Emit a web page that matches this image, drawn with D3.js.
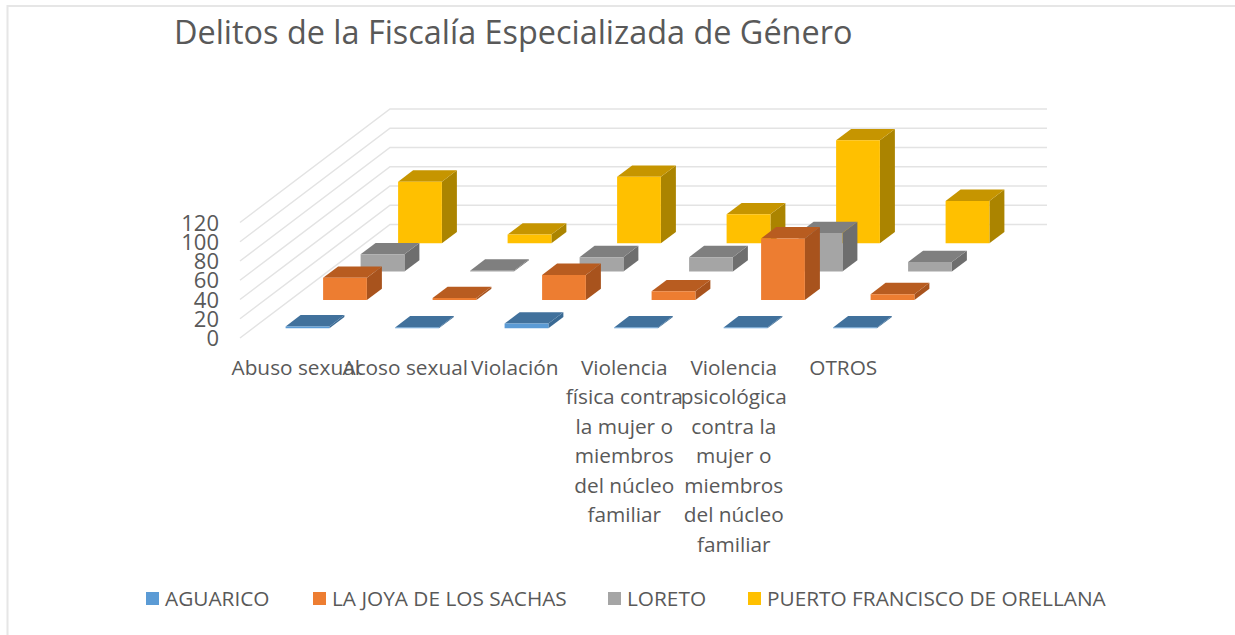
<!DOCTYPE html>
<html>
<head>
<meta charset="utf-8">
<script src="https://cdn.jsdelivr.net/npm/d3@7"></script>
<style>
html, body { margin: 0; padding: 0; background: #fff; }
svg { display: block; }
text { font-family: "Open Sans", sans-serif; fill: #595959; }
</style>
</head>
<body>
<script>
var categories = ["Abuso sexual", "Acoso sexual", "Violación", "Violencia física contra la mujer o miembros del núcleo familiar", "Violencia psicológica contra la mujer o miembros del núcleo familiar", "OTROS"];
var categoryLines = [
  ["Abuso sexual"],
  ["Acoso sexual"],
  ["Violación"],
  ["Violencia", "física contra", "la mujer o", "miembros", "del núcleo", "familiar"],
  ["Violencia", "psicológica", "contra la", "mujer o", "miembros", "del núcleo", "familiar"],
  ["OTROS"]
];
var seriesNames = ["AGUARICO", "LA JOYA DE LOS SACHAS", "LORETO", "PUERTO FRANCISCO DE ORELLANA"];
var aguarico = [2, 1, 5, 1, 1, 1];
var laJoya = [23, 2, 26, 9, 64, 6];
var loreto = [18, 1, 15, 15, 40, 10];
var orellana = [64, 9, 69, 30, 107, 44];
var yTicks = [0, 20, 40, 60, 80, 100, 120];

var seriesValues = [aguarico, laJoya, loreto, orellana];
var front = ["#5b9bd5", "#ed7d31", "#a5a5a5", "#ffc000"];
var top_ = ["#41719c", "#b85c20", "#7f7f7f", "#c69500"];
var side = ["#3a6a94", "#a8531d", "#6e6e6e", "#ab8400"];

var W = 1235, H = 635;
var svg = d3.select("body").append("svg").attr("width", W).attr("height", H);

// image frame, top and left only are visible in the screenshot
svg.append("path").attr("d", "M7.5,640V6H1235").attr("fill", "none").attr("stroke", "#e6e6e6").attr("stroke-width", 2);

svg.append("text").attr("x", 174).attr("y", 44).attr("font-size", 32.4).text("Delitos de la Fiscalía Especializada de Género");

// oblique projection: x across, depth goes up and to the right
var floorX = 240, floorY = 338, depthX = 150, depthY = 113.5;
var x = d3.scaleBand().domain(d3.range(categories.length)).range([0, 657]).paddingInner(0.6).paddingOuter(0.3);
var z = d3.scaleBand().domain(d3.range(seriesNames.length)).range([0.01, 1.01]).paddingInner(0.6).paddingOuter(0.3);
var y = d3.scaleLinear().domain([0, 120]).range([0, 115.5]);

function pt(px, depth, v) {
  return [floorX + px + depth * depthX, floorY - depth * depthY - y(v)];
}
function poly(pts) {
  return pts.map(function (p) { return p.join(","); }).join(" ");
}

var grid = svg.append("g").attr("fill", "none").attr("stroke", "#e3e3e3").attr("stroke-width", 1.5);
yTicks.forEach(function (t) {
  grid.append("polyline").attr("points", poly([pt(0, 0, t), pt(0, 1, t), pt(657, 1, t)]));
});

// back row first so nearer bars cover it
d3.range(seriesNames.length).reverse().forEach(function (s) {
  var g = svg.append("g");
  seriesValues[s].forEach(function (v, c) {
    var x0 = x(c), x1 = x0 + x.bandwidth(), d0 = z(s), d1 = d0 + z.bandwidth();
    g.append("polygon").attr("fill", side[s]).attr("points", poly([pt(x1, d0, 0), pt(x1, d1, 0), pt(x1, d1, v), pt(x1, d0, v)]));
    g.append("polygon").attr("fill", top_[s]).attr("points", poly([pt(x0, d0, v), pt(x1, d0, v), pt(x1, d1, v), pt(x0, d1, v)]));
    g.append("polygon").attr("fill", front[s]).attr("points", poly([pt(x0, d0, 0), pt(x1, d0, 0), pt(x1, d0, v), pt(x0, d0, v)]));
  });
});

// value axis
var yAxisScale = d3.scaleLinear().domain([0, 120]).range([floorY + 0.5, floorY + 0.5 - 115.5]);
var yAxis = svg.append("g").attr("transform", "translate(221,0)")
  .call(d3.axisLeft(yAxisScale).tickValues(yTicks).tickSize(0).tickPadding(2));
yAxis.select(".domain").remove();
yAxis.selectAll("text").attr("font-size", 22).style("font-family", '"Open Sans", sans-serif').style("fill", "#595959");

// category labels
var catCenter = d3.scaleBand().domain(d3.range(categories.length)).range([241, 898]);
categoryLines.forEach(function (lines, c) {
  var t = svg.append("text").attr("text-anchor", "middle").attr("font-size", 20.8);
  lines.forEach(function (l, i) {
    t.append("tspan").attr("x", catCenter(c) + catCenter.bandwidth() / 2).attr("y", 374.5 + i * 29.5).text(l);
  });
});

// legend
var legendX = [146, 313, 608, 748];
seriesNames.forEach(function (n, i) {
  svg.append("rect").attr("x", legendX[i]).attr("y", 592).attr("width", 13).attr("height", 13).attr("fill", front[i]);
  svg.append("text").attr("x", legendX[i] + 19).attr("y", 605.5).attr("font-size", 20.8).text(n);
});
</script>
</body>
</html>
